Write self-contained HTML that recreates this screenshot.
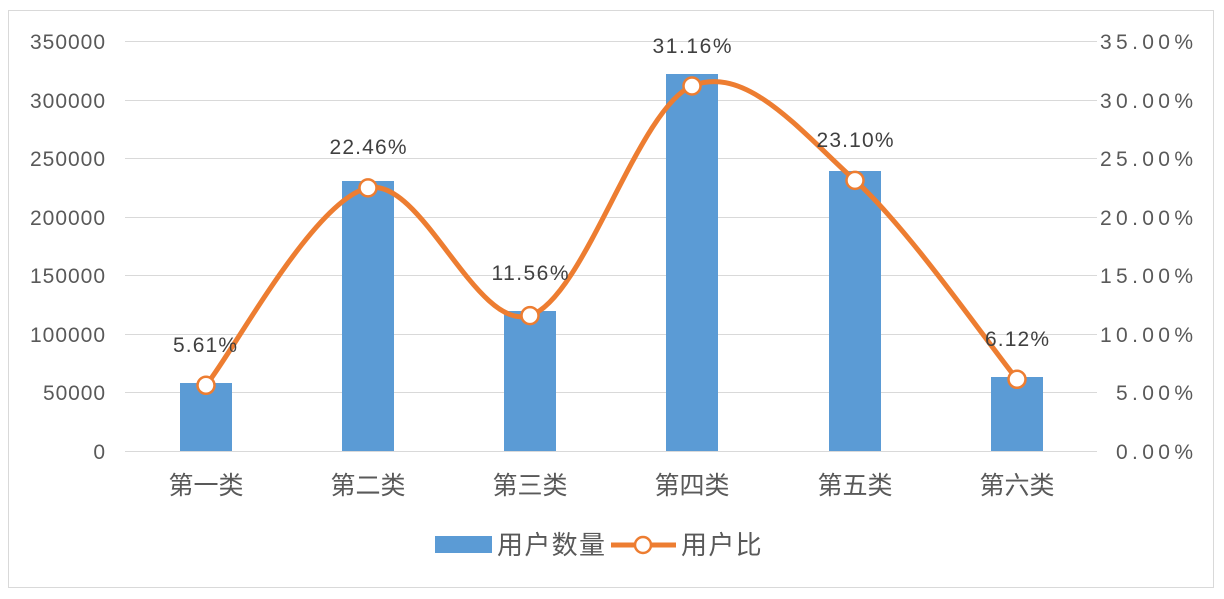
<!DOCTYPE html>
<html><head><meta charset="utf-8"><style>body{margin:0;background:#fff}svg{display:block}</style></head><body>
<svg width="1224" height="599" xmlns="http://www.w3.org/2000/svg" font-family="Liberation Sans, Noto Sans CJK SC, sans-serif">
<rect x="0" y="0" width="1224" height="599" fill="#fff"/>
<rect x="8.5" y="10.5" width="1205" height="577" fill="none" stroke="#d9d9d9"/>
<g stroke="#d9d9d9" stroke-width="1">
<line x1="125" x2="1097" y1="41.5" y2="41.5"/><line x1="125" x2="1097" y1="100.5" y2="100.5"/>
<line x1="125" x2="1097" y1="158.5" y2="158.5"/><line x1="125" x2="1097" y1="217.5" y2="217.5"/>
<line x1="125" x2="1097" y1="275.5" y2="275.5"/><line x1="125" x2="1097" y1="334.5" y2="334.5"/>
<line x1="125" x2="1097" y1="392.5" y2="392.5"/><line x1="125" x2="1097" y1="451.5" y2="451.5"/>
</g>
<g fill="#595959" font-size="21" text-anchor="end">
<text x="105" y="49" textLength="75">350000</text><text x="105" y="108" textLength="75">300000</text><text x="105" y="166" textLength="75">250000</text>
<text x="105" y="225" textLength="75">200000</text><text x="105" y="283" textLength="75">150000</text><text x="105" y="342" textLength="75">100000</text>
<text x="105" y="400" textLength="62">50000</text><text x="105" y="459" textLength="12">0</text>
</g>
<g fill="#595959" font-size="21" text-anchor="end">
<text x="1193" y="49" textLength="93">35.00%</text><text x="1193" y="108" textLength="93">30.00%</text><text x="1193" y="166" textLength="93">25.00%</text>
<text x="1193" y="225" textLength="93">20.00%</text><text x="1193" y="283" textLength="93">15.00%</text><text x="1193" y="342" textLength="93">10.00%</text>
<text x="1193" y="400" textLength="77">5.00%</text><text x="1193" y="459" textLength="77">0.00%</text>
</g>
<g fill="#5b9bd5">
<rect x="180" y="383" width="52" height="68"/>
<rect x="342" y="181" width="52" height="270"/>
<rect x="504" y="311" width="52" height="140"/>
<rect x="666" y="74" width="52" height="377"/>
<rect x="829" y="171" width="52" height="280"/>
<rect x="991" y="377" width="52" height="74"/>
</g>
<g fill="#595959" font-size="25" text-anchor="middle">
<text x="206" y="494">第一类</text><text x="368" y="494">第二类</text><text x="530" y="494">第三类</text>
<text x="692" y="494">第四类</text><text x="855" y="494">第五类</text><text x="1017" y="494">第六类</text>
</g>
<path d="M206,385.3 C233,352.4 314,199.5 368,187.9 C422,176.3 476,332.6 530,315.6 C584,298.6 637.8,108.5 692,86 C746.2,63.5 800.8,131.5 855,180.4 C909.2,229.3 990,346.1 1017,379.3" fill="none" stroke="#ed7d31" stroke-width="5" stroke-linecap="round"/>
<g fill="#fff" stroke="#ed7d31" stroke-width="2.5">
<circle cx="206" cy="385.3" r="8.5"/><circle cx="368" cy="187.9" r="8.5"/><circle cx="530" cy="315.6" r="8.5"/>
<circle cx="692" cy="86" r="8.5"/><circle cx="855" cy="180.4" r="8.5"/><circle cx="1017" cy="379.3" r="8.5"/>
</g>
<g fill="#404040" font-size="21" text-anchor="middle">
<text x="205" y="352" textLength="64">5.61%</text><text x="368" y="154" textLength="77">22.46%</text><text x="530" y="280" textLength="77">11.56%</text>
<text x="692" y="53" textLength="79">31.16%</text><text x="855" y="147" textLength="77">23.10%</text><text x="1017" y="346" textLength="64">6.12%</text>
</g>
<rect x="435" y="536" width="57" height="17" fill="#5b9bd5"/>
<text x="497" y="554" fill="#595959" font-size="26" textLength="108">用户数量</text>
<line x1="611" x2="676" y1="545" y2="545" stroke="#ed7d31" stroke-width="5"/>
<circle cx="643" cy="545" r="8" fill="#fff" stroke="#ed7d31" stroke-width="2.5"/>
<text x="681" y="554" fill="#595959" font-size="26" textLength="108">用户比例</text>
<rect x="762" y="528" width="40" height="40" fill="#fff"/>
</svg>
</body></html>
